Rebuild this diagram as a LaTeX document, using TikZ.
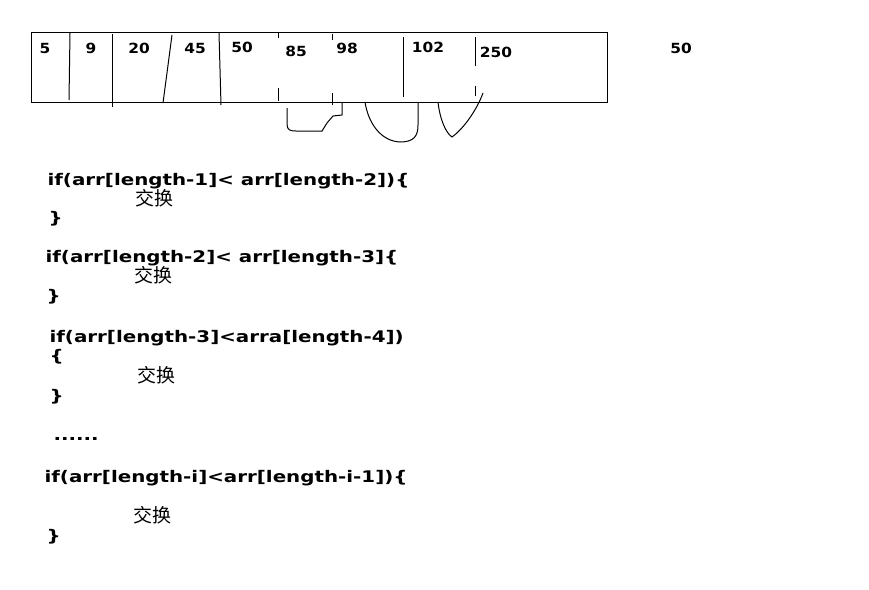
\documentclass[tikz,border=0pt]{standalone}
\usepackage{fontspec}
\setmainfont{DejaVu Sans}
\newfontfamily\pixfont[FakeStretch=1.24]{DejaVu Sans Bold}
\newfontfamily\numfont[FakeStretch=1.1]{DejaVu Sans Bold}
\newfontfamily\cjk{Noto Sans CJK SC}

\begin{document}
\begin{tikzpicture}[x=1pt,y=-1pt,line width=1pt,
  num/.style={inner sep=0pt,font=\numfont\fontsize{14}{16}\selectfont},
  code/.style={anchor=base west,inner sep=0pt,font=\pixfont\fontsize{16}{18}\selectfont},
  swap/.style={anchor=base west,inner sep=0pt,font=\cjk\fontsize{19}{21}\selectfont}]
\useasboundingbox (0,0) rectangle (869,589);

\draw (31,32) rectangle (607,102);

\draw (70,33) -- (69,100);
\draw (112,34) -- (112,107);
\draw (172,35) -- (163,103);
\draw (219,33) -- (221,105);
\draw (278,33) -- (278,38) (278,88) -- (278,101);
\draw (332,34) -- (332,40) (332,93) -- (332,105);
\draw (403,37) -- (403,97);
\draw (475,37) -- (475,66) (475,86) -- (475,96);

\node[num] (n5) at (45,48) {5};
\node[num] (n9) at (91,48) {9};
\node[num] (n20) at (139,48) {20};
\node[num] (n45) at (195,48) {45};
\node[num] (n50) at (242,47) {50};
\node[num] (n85) at (296,51) {85};
\node[num] (n98) at (347,48) {98};
\node[num] (n102) at (428,47) {102};
\node[num] (n250) at (496,52) {250};
\node[num] (key) at (681,48) {50};

\draw (287,108) -- (287,124) .. controls (287,130) and (290,131) .. (296,131)
  -- (322,131) -- (327,123) -- (333,116) -- (342,115) -- (342,103);
\draw (365,102) .. controls (368,122) and (380,141) .. (400,142)
  .. controls (414,142) and (418,136) .. (418,125) -- (418,102);
\draw (438,102) .. controls (440,120) and (446,133) .. (452,137)
  .. controls (462,130) and (476,112) .. (483,93);

\node[code] (if1) at (47,185) {if(arr[length-1]< arr[length-2])\{};
\node[swap] (swap1) at (135,205) {交换};
\node[code] (end1) at (48,223) {\}};

\node[code] (if2) at (45,262) {if(arr[length-2]< arr[length-3]\{};
\node[swap] (swap2) at (134,282) {交换};
\node[code] (end2) at (46,301) {\}};

\node[code] (if3) at (49,342) {if(arr[length-3]<arra[length-4])};
\node[code] (beg3) at (49,361) {\{};
\node[swap] (swap3) at (137,382) {交换};
\node[code] (end3) at (49,401) {\}};

\node[code] (dots) at (53,440) {......};

\node[code] (if4) at (44,482) {if(arr[length-i]<arr[length-i-1])\{};
\node[swap] (swap4) at (133,522) {交换};
\node[code] (end4) at (46,541) {\}};
\end{tikzpicture}
\end{document}
